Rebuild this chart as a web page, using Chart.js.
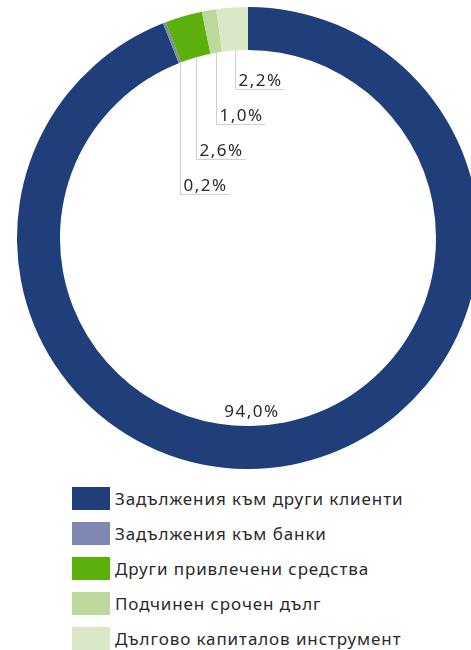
<!DOCTYPE html>
<html lang="bg">
<head>
<meta charset="utf-8">
<script src="https://cdn.jsdelivr.net/npm/chart.js@4"></script>
<style>
  html, body { margin: 0; padding: 0; background: #fff; overflow: hidden; width: 471px; height: 650px; }
  #wrap { position: relative; width: 471px; height: 650px; }
  #chart { position: absolute; left: 0; top: 0; }
  #legend { position: absolute; left: 72px; top: 487px; margin: 0; padding: 0; list-style: none;
    font-family: 'Noto Sans', sans-serif; font-size: 17px; letter-spacing: 0.9px; color: #2a2a2a; }
  #legend li { display: flex; align-items: center; height: 23px; margin-bottom: 12px; white-space: nowrap; }
  #legend .box { width: 38px; height: 23px; margin-right: 5px; flex: none; }
</style>
</head>
<body>
<div id="wrap">
  <canvas id="chart" width="480" height="470"></canvas>
  <ul id="legend"></ul>
</div>
<script>
// Структура на привлечените средства (%)
const categories = [
  'Задължения към други клиенти',
  'Задължения към банки',
  'Други привлечени средства',
  'Подчинен срочен дълг',
  'Дългово капиталов инструмент',
];
const values = [94.0, 0.2, 2.6, 1.0, 2.2];
const valueLabels = ['94,0%', '0,2%', '2,6%', '1,0%', '2,2%'];
const colors = ['#1f3e7a', '#7f87b3', '#5cb00c', '#bdd89b', '#dbe8c8'];

// labels: big slice inside the ring, small ones with leader lines
const sliceLabels = {
  id: 'sliceLabels',
  afterDatasetsDraw(chart) {
    const { ctx } = chart;
    const meta = chart.getDatasetMeta(0);
    ctx.save();
    ctx.font = '17px "Noto Sans", sans-serif';
    ctx.letterSpacing = '1.5px';
    ctx.fillStyle = '#2a2a2a';
    ctx.textBaseline = 'alphabetic';

    const arcs = meta.data;
    const first = arcs[0];
    ctx.textAlign = 'center';
    ctx.fillText(valueLabels[0], first.x + 4, first.y + first.innerRadius - 9);

    ctx.textAlign = 'left';
    const last = arcs.length - 1;
    for (let i = last; i >= 1; i--) {
      const arc = arcs[i];
      const mid = (arc.startAngle + arc.endAngle) / 2;
      const x0 = arc.x + Math.cos(mid) * arc.innerRadius;
      const y0 = arc.y + Math.sin(mid) * arc.innerRadius;
      const k = last - i;
      const yEnd = arc.y - arc.innerRadius + 39 + k * 35;
      const text = valueLabels[i];
      const w = ctx.measureText(text).width;
      const lx = Math.round(x0) + 0.5;

      ctx.strokeStyle = '#cfcfcf';
      ctx.lineWidth = 1;
      ctx.beginPath();
      ctx.moveTo(lx, y0);
      ctx.lineTo(lx, yEnd + 0.5);
      ctx.lineTo(lx + w + 5, yEnd + 0.5);
      ctx.stroke();

      ctx.fillText(text, lx + 3, yEnd - 3);
    }
    ctx.restore();
  },
};

new Chart(document.getElementById('chart'), {
  type: 'doughnut',
  data: {
    labels: categories,
    datasets: [{
      data: values,
      backgroundColor: colors,
      borderWidth: 0,
    }],
  },
  plugins: [sliceLabels],
  options: {
    responsive: false,
    animation: false,
    cutout: '81.4%',
    layout: { padding: { left: 17, top: 7, right: 1, bottom: 1 } },
    plugins: {
      legend: { display: false },
      tooltip: { enabled: false },
    },
  },
});

// HTML legend built from the same arrays
const legend = document.getElementById('legend');
categories.forEach((name, i) => {
  const li = document.createElement('li');
  const box = document.createElement('span');
  box.className = 'box';
  box.style.background = colors[i];
  li.appendChild(box);
  li.appendChild(document.createTextNode(name));
  legend.appendChild(li);
});
</script>
</body>
</html>
